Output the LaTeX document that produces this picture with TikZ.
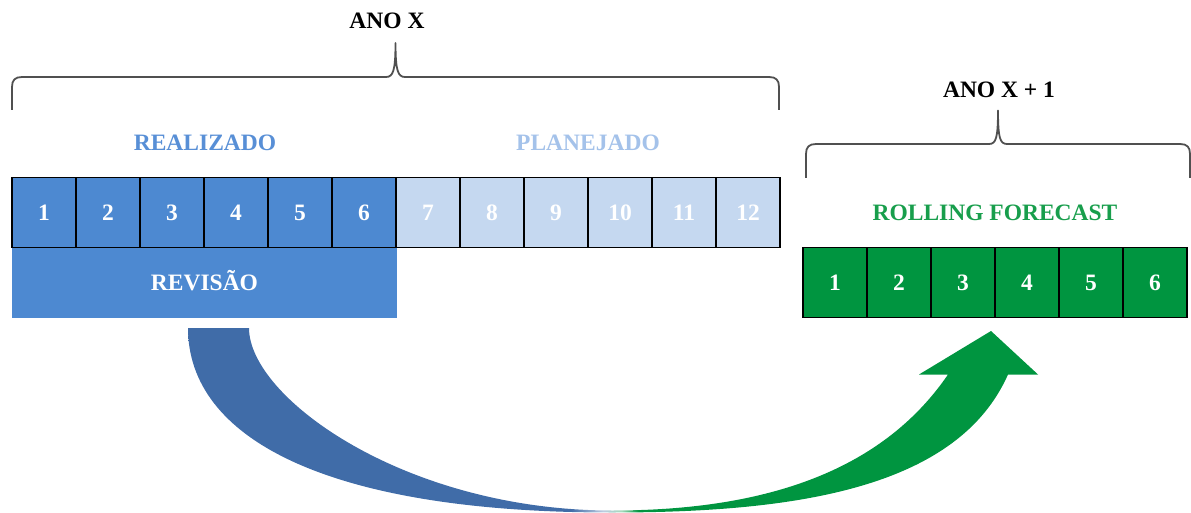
\documentclass[tikz,border=0pt]{standalone}
\usepackage{fontspec}
\setmainfont{Liberation Serif}
\definecolor{boxblue}{RGB}{77,137,209}
\definecolor{paleblue}{RGB}{197,216,240}
\definecolor{realtext}{RGB}{88,143,214}
\definecolor{plantext}{RGB}{164,194,234}
\definecolor{boxgreen}{RGB}{0,149,64}
\definecolor{rolltext}{RGB}{24,158,76}
\definecolor{arrowblue}{RGB}{64,108,168}
\definecolor{arrowgreen}{RGB}{0,149,64}
\definecolor{bracegray}{RGB}{80,80,80}
\colorlet{fadeblue}{arrowblue!35!white}
\colorlet{fadegreen}{arrowgreen!35!white}
% blue tail running into the green head
\pgfdeclarehorizontalshading{revtoroll}{100bp}{color(0bp)=(arrowblue); color(47.5bp)=(arrowblue);
  color(49.4bp)=(fadeblue); color(50.5bp)=(fadegreen); color(51.5bp)=(arrowgreen); color(100bp)=(arrowgreen)}
\begin{document}
\begin{tikzpicture}[x=1pt,y=-1pt,
  font=\fontsize{23.5}{28}\selectfont\bfseries,
  lbl/.style={inner sep=0pt,text height=15.6pt,text depth=0pt},
  monthbox/.style={lbl,draw=black,line width=1.4pt,minimum width=64pt,minimum height=70pt,text=white},
  bracestroke/.style={draw=bracegray,line width=1.8pt,line join=round}]
\useasboundingbox (0,0) rectangle (1191,513);

% year X: months done and planned
\node[lbl] (anox) at (387,21) {ANO X};
\draw[bracestroke] (12,110) -- (12,87) .. controls (12,80) and (15,77) .. (22,77) -- (386,77)
  .. controls (393,77) and (395.5,71) .. (395.5,43) .. controls (395.5,71) and (398,77) .. (405,77)
  -- (769,77) .. controls (776,77) and (779,80) .. (779,87) -- (779,110);
\node[lbl,text=realtext] (realizado) at (205,142.5) {REALIZADO};
\node[lbl,text=plantext] (planejado) at (588,142.5) {PLANEJADO};
\foreach \m in {1,...,6}
  \node[monthbox,fill=boxblue] (m\m) at (12+64*\m-32,212.5) {\m};
\foreach \m in {7,...,12}
  \node[monthbox,fill=paleblue] (m\m) at (12+64*\m-32,212.5) {\m};
\node[lbl,fill=boxblue,text=white,minimum width=385pt,minimum height=70pt] (revisao) at (204.5,282.5) {REVISÃO};

% year X + 1
\node[lbl] (anox1) at (999,89.5) {ANO X + 1};
\draw[bracestroke] (806,178) -- (806,154) .. controls (806,147) and (809,144) .. (816,144) -- (989,144)
  .. controls (996,144) and (998,138) .. (998,110.5) .. controls (998,138) and (1000,144) .. (1007,144)
  -- (1180,144) .. controls (1187,144) and (1190,147) .. (1190,154) -- (1190,178);
\node[lbl,text=rolltext] (rolling) at (995,213) {ROLLING FORECAST};
\foreach \f in {1,...,6}
  \node[monthbox,fill=boxgreen] (f\f) at (803+64*\f-32,282.5) {\f};

% curved arrow under both rows
\shade[shading=revtoroll] (188,328) .. controls (188,438) and (326,512.5) .. (612,512.5)
  .. controls (800,512.5) and (958,487) .. (1008,374.5)
  -- (1038,374.5) -- (991,331) -- (919,374.5) -- (948,374.5)
  .. controls (880,474) and (760,510.5) .. (612,510.5)
  .. controls (406,510.5) and (249,398) .. (249,328) -- cycle;
\end{tikzpicture}
\end{document}
